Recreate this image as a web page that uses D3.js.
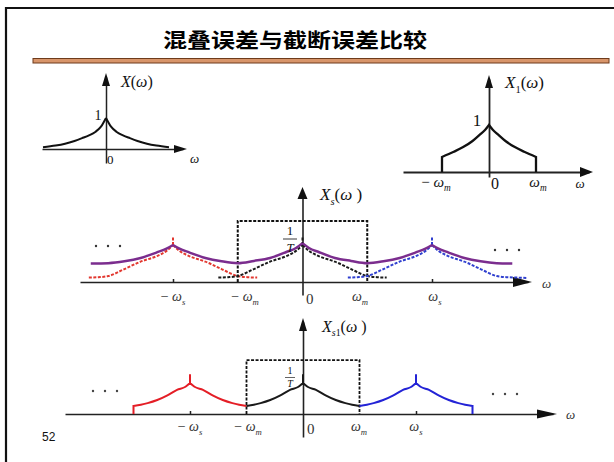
<!DOCTYPE html>
<html>
<head>
<meta charset="utf-8">
<script src="https://cdn.jsdelivr.net/npm/d3@7"></script>
<style>
  body { margin: 0; background: #fff; }
  svg { display: block; }
</style>
</head>
<body>
<svg id="chart" width="614" height="462"></svg>
<script>
///////////////////////////////////////////
// Data
///////////////////////////////////////////
var titleText = "混叠误差与截断误差比较";
var pageNumber = "52";

// X(ω): one side of the even spectrum, ω in units of the drawn half width
var specW = [0, 0.08, 0.17, 0.27, 0.38, 0.5, 0.65, 0.8, 1.0];
var specV = [1, 0.72, 0.55, 0.44, 0.35, 0.26, 0.17, 0.11, 0.06];

// X1(ω): truncated at ±ωm (ω in units of ωm)
var truncW = [0, 0.08, 0.19, 0.35, 0.55, 0.75, 1.0];
var truncV = [1, 0.9, 0.8, 0.66, 0.53, 0.43, 0.32];

// Xs(ω): one shifted copy (dashed), ω in units of ωm, ωs = 2ωm
var copyW = [0, 0.1, 0.25, 0.5, 0.75, 1.0, 1.15, 1.3, 1.47];
var copyV = [1.0, 0.84, 0.7, 0.55, 0.35, 0.16, 0.13, 0.12, 0.11];
var copySpike = 1.2;
var copyCentres = [-2, 0, 2];
var copyReach = [1.3, 1.3, 1.47];
var copyColours = ["#e2372f", "#1a1a1a", "#2f3fcf"];

// Xs(ω): aliased sum (purple)
var sumW = [-3.27, -3, -2.75, -2.5, -2.25, -2.1, -2, -1.9, -1.75, -1.5, -1.25, -1,
            -0.75, -0.5, -0.25, -0.1, 0, 0.1, 0.25, 0.5, 0.75, 1, 1.25, 1.5, 1.75,
            1.9, 2, 2.1, 2.25, 2.5, 2.75, 3, 3.24];
var sumV = [0.5, 0.51, 0.56, 0.65, 0.8, 0.9, 1, 0.9, 0.8, 0.65, 0.56, 0.51,
            0.57, 0.65, 0.81, 0.92, 1.05, 0.92, 0.81, 0.65, 0.57, 0.51, 0.56, 0.65, 0.8,
            0.9, 1, 0.9, 0.8, 0.65, 0.56, 0.51, 0.5];

// Xs1(ω): truncated copies
var cutW = [0, 0.08, 0.23, 0.4, 0.58, 0.75, 0.87, 1.0];
var cutV = [1.0, 0.88, 0.78, 0.6, 0.45, 0.35, 0.3, 0.26];
var cutSpike = 1.28;
var cutColours = ["#e41e26", "#1a1a1a", "#2323d6"];

// ideal low-pass window height (dashed box) in the two lower sketches
var filterHeight = [1.65, 1.74];
var omegaTicks = [-2, 2];

///////////////////////////////////////////
// Helpers
///////////////////////////////////////////
var svg = d3.select("#chart");
var SERIF = "'Liberation Serif','DejaVu Serif',serif";

// two halves of an even curve, each half ends on the peak so the cusp stays sharp
function halves(w, v, c, reachL, reachR) {
    var left = [], right = [];
    for (var i = w.length - 1; i >= 0; i--) if (w[i] <= reachL) left.push([c - w[i], v[i]]);
    for (var j = 0; j < w.length; j++) if (w[j] <= reachR) right.push([c + w[j], v[j]]);
    return [left, right];
}

// split a polyline at its local maxima
function splitAtPeaks(pts) {
    var segs = [[pts[0]]];
    for (var i = 1; i < pts.length; i++) {
        segs[segs.length - 1].push(pts[i]);
        if (i < pts.length - 1 && pts[i][1] > pts[i - 1][1] && pts[i][1] > pts[i + 1][1]) segs.push([pts[i]]);
    }
    return segs;
}

function mathText(x, y, size, parts, anchor, colour) {
    var t = svg.append("text")
        .attr("x", x).attr("y", y)
        .attr("font-size", size)
        .attr("font-family", SERIF)
        .attr("fill", colour || "#111")
        .attr("text-anchor", anchor || "start");
    var shifted = 0;
    parts.forEach(function(p) {
        var s = t.append("tspan").text(p[0]);
        if (p[1].indexOf("i") >= 0) s.attr("font-style", "italic");
        if (p[1].indexOf("sub") >= 0) {
            s.attr("font-size", size * 0.62);
            if (!shifted) { s.attr("dy", size * 0.28); shifted = 1; }
        } else if (shifted) {
            s.attr("dy", -size * 0.28); shifted = 0;
        }
    });
    return t;
}

function arrowUp(x, tip, len, w) {
    svg.append("path")
        .attr("d", "M" + x + "," + tip + "L" + (x - w / 2) + "," + (tip + len) + "L" + (x + w / 2) + "," + (tip + len) + "Z")
        .attr("fill", "#111");
}
function arrowRight(tip, y, len, w) {
    svg.append("path")
        .attr("d", "M" + tip + "," + y + "L" + (tip - len) + "," + (y - w / 2) + "L" + (tip - len) + "," + (y + w / 2) + "Z")
        .attr("fill", "#111");
}

// axes through d3.axis, the scale copied out to the drawn extent
function drawAxes(p) {
    var sx = p.x.copy().domain([p.x.invert(p.ax[0]), p.x.invert(p.ax[1] - 4)]).range([p.ax[0], p.ax[1] - 4]);
    var gx = svg.append("g").attr("transform", "translate(0," + p.y(0) + ")")
        .call(d3.axisBottom(sx).tickValues(p.ticks || []).tickSize(-3).tickSizeOuter(0).tickFormat(""));
    gx.select(".domain").attr("stroke", "#222").attr("stroke-width", p.aw);
    gx.selectAll(".tick line").attr("stroke", "#222").attr("stroke-width", 1.5);

    var sy = p.y.copy().domain([p.y.invert(p.ay[0]), p.y.invert(p.ay[1] + 4)]).range([p.ay[0], p.ay[1] + 4]);
    var gy = svg.append("g").attr("transform", "translate(" + p.x(0) + ",0)")
        .call(d3.axisLeft(sy).tickValues([]).tickSizeOuter(0));
    gy.select(".domain").attr("stroke", "#222").attr("stroke-width", p.aw);

    arrowUp(p.x(0), p.ay[1], p.arr[0], p.arr[1]);
    arrowRight(p.ax[1], p.y(0), p.arr[2], p.arr[3]);
}

function lineFor(p) {
    return d3.line().x(function(d) { return p.x(d[0]); }).y(function(d) { return p.y(d[1]); }).curve(d3.curveMonotoneX);
}

///////////////////////////////////////////
// Frame + title
///////////////////////////////////////////
svg.append("path").attr("d", "M6,462V8H614").attr("fill", "none").attr("stroke", "#111").attr("stroke-width", 2.2);
svg.append("rect").attr("x", 33).attr("y", 58.5).attr("width", 576).attr("height", 4.5)
    .attr("fill", "#d8956a").attr("stroke", "#6e3b1c").attr("stroke-width", 1);
svg.append("text")
    .attr("transform", "translate(295,48) scale(1.2,1)")
    .attr("text-anchor", "middle")
    .attr("font-family", "'Noto Sans CJK SC', sans-serif")
    .attr("font-weight", "bold")
    .attr("font-size", 20)
    .attr("fill", "#000")
    .text(titleText);
svg.append("text").attr("x", 42).attr("y", 441)
    .attr("font-family", "'Liberation Sans', Arial, sans-serif").attr("font-size", 12)
    .attr("fill", "#111").text(pageNumber);

///////////////////////////////////////////
// Sketch 1: X(ω)
///////////////////////////////////////////
var pA = {
    x: d3.scaleLinear().domain([-1, 1]).range([43, 169]),
    y: d3.scaleLinear().domain([0, 1]).range([149, 118]),
    ax: [42, 187], ay: [163, 73], aw: 1.5, arr: [13, 8, 13, 8]
};
drawAxes(pA);
var lineA = lineFor(pA);
halves(specW, specV, 0, 1, 1).forEach(function(h) {
    svg.append("path").attr("d", lineA(h))
        .attr("fill", "none").attr("stroke", "#111").attr("stroke-width", 2);
});
mathText(121, 87, 16, [["X", "i"], ["(", ""], ["ω", "i"], [")", ""]]);
mathText(98, 120, 14, [["1", ""]], "middle");
mathText(107, 164, 13, [["0", ""]]);
mathText(190, 163, 13, [["ω", "i"]]);

///////////////////////////////////////////
// Sketch 2: X1(ω)
///////////////////////////////////////////
var pB = {
    x: d3.scaleLinear().domain([-1, 1]).range([442, 536]),
    y: d3.scaleLinear().domain([0, 1]).range([172, 125]),
    ax: [403, 593], ay: [177, 75], aw: 1.8, arr: [13, 8, 13, 10]
};
drawAxes(pB);
var lineB = lineFor(pB);
var hB = halves(truncW, truncV, 0, 1, 1);
svg.append("path")
    .attr("d", "M" + pB.x(-1) + "," + pB.y(0) + "L" + lineB(hB[0]).slice(1) + "L" + lineB(hB[1]).slice(1) + "L" + pB.x(1) + "," + pB.y(0))
    .attr("fill", "none").attr("stroke", "#111").attr("stroke-width", 2.3).attr("stroke-linejoin", "miter");
mathText(505, 88, 17, [["X", "i"], ["1", "sub"], ["(", ""], ["ω", "i"], [")", ""]]);
mathText(477, 126, 17, [["1", ""]], "middle");
mathText(436, 187, 15, [["− ", ""], ["ω", "i"], ["m", "isub"]], "middle");
mathText(491, 189, 16, [["0", ""]]);
mathText(538, 187, 15, [["ω", "i"], ["m", "isub"]], "middle");
mathText(580, 188, 13, [["ω", "i"]], "middle");

///////////////////////////////////////////
// Sketch 3: Xs(ω), aliasing
///////////////////////////////////////////
var pC = {
    x: d3.scaleLinear().domain([-2, 2]).range([173, 432]),
    y: d3.scaleLinear().domain([0, 1]).range([282, 245]),
    ax: [80, 532], ay: [295, 187], aw: 1.6, arr: [12, 10, 19, 10], ticks: omegaTicks
};
drawAxes(pC);
var lineC = lineFor(pC);

// dashed filter window
svg.append("path")
    .attr("d", "M" + pC.x(-1) + "," + pC.y(0) + "V" + pC.y(filterHeight[0]) + "H" + pC.x(1) + "V" + pC.y(0))
    .attr("fill", "none").attr("stroke", "#111").attr("stroke-width", 2).attr("stroke-dasharray", "3,1.5");

copyCentres.forEach(function(c, i) {
    var hs = halves(copyW, copyV, c, i === 2 ? 1.3 : copyReach[i], copyReach[i]);
    svg.append("path").attr("d", lineC(hs[0]) + lineC(hs[1]) +
            "M" + pC.x(c) + "," + pC.y(1) + "V" + pC.y(copySpike))
        .attr("fill", "none").attr("stroke", copyColours[i]).attr("stroke-width", 2)
        .attr("stroke-dasharray", "3,1.5");
});
splitAtPeaks(sumW.map(function(w, i) { return [w, sumV[i]]; })).forEach(function(seg) {
    svg.append("path").attr("d", lineC(seg))
        .attr("fill", "none").attr("stroke", "#7b2d8e").attr("stroke-width", 2.5);
});

[[108, 246], [507, 250]].forEach(function(p) {
    [-12, 0, 12].forEach(function(dx) {
        svg.append("circle").attr("cx", p[0] + dx).attr("cy", p[1]).attr("r", 1.2).attr("fill", "#333");
    });
});
mathText(320, 200, 17, [["X", "i"], ["s", "isub"], ["(", ""], ["ω", "i"], [" )", ""]]);
mathText(290, 235, 13, [["1", ""]], "middle");
svg.append("line").attr("x1", 283).attr("x2", 297).attr("y1", 239).attr("y2", 239).attr("stroke", "#222").attr("stroke-width", 0.9);
mathText(290, 252, 13, [["T", "i"]], "middle");
mathText(pC.x(-2), 301, 14, [["− ", ""], ["ω", "i"], ["s", "isub"]], "middle", "#333");
mathText(245, 301, 14, [["− ", ""], ["ω", "i"], ["m", "isub"]], "middle", "#333");
mathText(306, 304, 15, [["0", ""]], "start", "#333");
mathText(360, 301, 14, [["ω", "i"], ["m", "isub"]], "middle", "#333");
mathText(pC.x(2) + 3, 301, 14, [["ω", "i"], ["s", "isub"]], "middle", "#333");
mathText(542, 288, 13, [["ω", "i"]], "start", "#333");

///////////////////////////////////////////
// Sketch 4: Xs1(ω), truncation
///////////////////////////////////////////
var pD = {
    x: d3.scaleLinear().domain([-2, 2]).range([190, 416]),
    y: d3.scaleLinear().domain([0, 1]).range([414, 383]),
    ax: [65, 557], ay: [437, 318], aw: 1.6, arr: [13, 8, 20, 9], ticks: omegaTicks
};
drawAxes(pD);
var lineD = lineFor(pD);

svg.append("path")
    .attr("d", "M" + pD.x(-1) + "," + pD.y(0) + "V" + pD.y(filterHeight[1]) + "H" + pD.x(1) + "V" + pD.y(0))
    .attr("fill", "none").attr("stroke", "#111").attr("stroke-width", 1.8).attr("stroke-dasharray", "3,1.5");

copyCentres.forEach(function(c, i) {
    var hs = halves(cutW, cutV, c, 1, 1);
    var d = lineD(hs[0]) + lineD(hs[1]);
    if (i === 0) d = "M" + pD.x(c - 1) + "," + pD.y(0) + "L" + d.slice(1);
    if (i === 2) d = d + "L" + pD.x(c + 1) + "," + pD.y(0);
    d += "M" + pD.x(c) + "," + pD.y(1) + "V" + pD.y(cutSpike);
    svg.append("path").attr("d", d)
        .attr("fill", "none").attr("stroke", cutColours[i]).attr("stroke-width", 2);
});
[[105, 391], [505, 394]].forEach(function(p) {
    [-12, 0, 12].forEach(function(dx) {
        svg.append("circle").attr("cx", p[0] + dx).attr("cy", p[1]).attr("r", 1.2).attr("fill", "#444");
    });
});
mathText(322, 332, 16, [["X", "i"], ["s", "isub"], ["1", "sub"], ["(", ""], ["ω", "i"], [" )", ""]]);
mathText(290, 374, 10, [["1", ""]], "middle");
svg.append("line").attr("x1", 285).attr("x2", 295).attr("y1", 377.5).attr("y2", 377.5).attr("stroke", "#222").attr("stroke-width", 0.7);
mathText(290, 387, 10, [["T", "i"]], "middle");
mathText(pD.x(-2), 431, 14, [["− ", ""], ["ω", "i"], ["s", "isub"]], "middle", "#333");
mathText(248, 431, 14, [["− ", ""], ["ω", "i"], ["m", "isub"]], "middle", "#333");
mathText(307, 434, 15, [["0", ""]], "start", "#333");
mathText(359, 431, 14, [["ω", "i"], ["m", "isub"]], "middle", "#333");
mathText(pD.x(2), 431, 14, [["ω", "i"], ["s", "isub"]], "middle", "#333");
mathText(566, 419, 13, [["ω", "i"]], "start", "#333");
</script>
</body>
</html>
